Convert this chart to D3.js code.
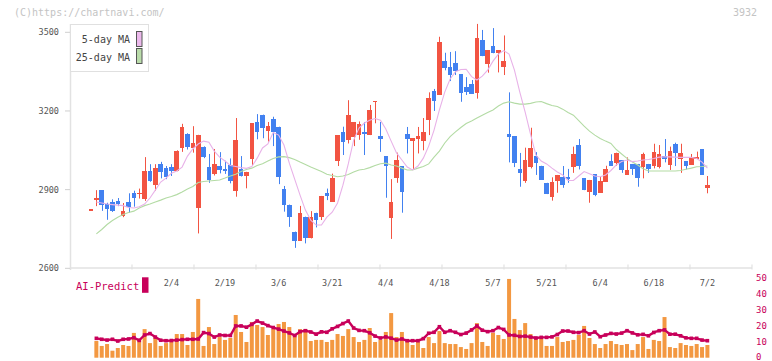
<!DOCTYPE html>
<html><head><meta charset="utf-8">
<script src="https://cdn.jsdelivr.net/npm/d3@7"></script>
<style>body{margin:0;background:#fff}svg{display:block}text{font-family:"DejaVu Sans Mono",monospace}</style>
</head><body><svg id="c" width="772" height="361"></svg>
<script>
// ---- data ----
const dateLabels = ["2/4","2/19","3/6","3/21","4/4","4/18","5/7","5/21","6/4","6/18","7/2"];
const labelIdx = [15,25,35,45,55,65,75,85,95,105,115];
const priceTicks = [2600,2900,3200,3500];
const volTicks = [0,10,20,30,40,50];
const opens = [2825,2861,2898,2844,2853,2857,2799,2853,2888,2886,2863,2971,2919,2997,2981,2986,2972,3058,3113,3060,2831,3062,2987,2959,2991,2980,2994,2896,2979,2952,3017,3158,3184,3125,3169,3139,2902,2841,2738,2705,2797,2716,2812,2797,2887,2854,3010,3120,3089,3102,3110,3120,3108,3233,3104,3028,2793,2945,2990,3112,3086,3093,3085,3165,3276,3262,3390,3368,3383,3341,3291,3303,3270,3470,3380,3448,3420,3369,3112,3104,2979,2933,2987,3028,2991,2926,2873,2934,2949,2949,2987,3070,2943,2892,2959,2888,2930,3009,3003,3013,2956,2998,2998,2987,2998,2991,2987,3028,2994,3075,3017,3009,2994,3018,3055,2907];
const highs = [2825,2898,2898,2850,2863,2868,2849,2886,2896,2904,3024,2997,2997,3006,2990,2997,3050,3151,3115,3142,3109,3065,3036,3055,3043,3010,3019,3173,3028,2968,3154,3188,3186,3158,3178,3140,2914,2843,2740,2838,2797,2818,2812,2876,2904,2961,3108,3140,3241,3158,3160,3158,3223,3237,3158,3028,2940,3041,2990,3139,3096,3139,3173,3271,3284,3483,3422,3425,3428,3341,3329,3318,3532,3509,3432,3516,3432,3488,3271,3104,3040,3060,3136,3043,2991,2926,2947,2956,2990,2979,3064,3093,2943,2937,2959,2949,2991,3035,3041,3013,3023,2998,2998,3041,2998,3075,3070,3093,3064,3079,3075,3009,3036,3045,3055,2952];
const lows = [2825,2837,2819,2785,2815,2837,2795,2812,2835,2866,2857,2930,2896,2943,2940,2952,2970,3044,3053,3041,2733,3020,2926,2954,2962,2960,2924,2873,2950,2905,2994,3092,3096,3083,3066,2921,2816,2758,2678,2705,2695,2714,2756,2784,2860,2854,2990,3032,3076,3066,3090,3032,3108,3153,3044,2869,2712,2926,2812,3038,2975,3038,3050,3108,3200,3262,3355,3314,3337,3235,3261,3265,3247,3409,3346,3420,3347,3337,3004,2986,2911,2926,2981,2956,2937,2883,2858,2888,2907,2926,2964,2977,2898,2850,2875,2888,2930,2991,2991,2964,2956,2956,2911,2943,2964,2981,2981,3004,2975,2990,2964,2977,2994,3018,2956,2886];
const closes = [2825,2868,2842,2827,2819,2845,2818,2833,2868,2887,2972,2934,2982,2967,2949,2970,3048,3139,3061,3079,3109,3025,2937,2998,2975,2972,2933,3089,2952,2968,3154,3121,3135,3143,3121,2949,2841,2797,2705,2810,2716,2797,2784,2876,2877,2944,3108,3083,3184,3158,3150,3111,3204,3237,3093,2990,2854,3013,2892,3093,3096,3104,3120,3249,3238,3463,3365,3337,3353,3270,3272,3266,3478,3409,3432,3420,3432,3390,3102,3003,2963,3013,3060,3003,2937,2883,2929,2956,2917,2941,3036,2991,2898,2937,2879,2934,2979,2991,3041,2975,2975,2979,2945,3036,2979,3043,3036,3017,3047,3038,3040,2991,3024,3023,2956,2917];
const ma5 = [null,2853,2849,2845,2843,2841,2839,2832,2830,2835,2845,2868,2898,2929,2944,2963,2971,2986,3028,3055,3074,3085,3081,3047,3024,3009,2992,2988,2984,2981,2988,3020,3059,3074,3118,3108,3070,3001,2940,2879,2822,2784,2765,2765,2795,2814,2849,2917,2998,3089,3135,3154,3165,3171,3165,3131,3085,3040,3013,2986,2975,2990,3020,3066,3127,3204,3272,3322,3350,3358,3359,3331,3318,3333,3356,3390,3417,3430,3417,3356,3272,3196,3112,3032,3009,2998,2982,2967,2956,2935,2935,2952,2969,2961,2952,2949,2956,2973,2994,3007,3013,3007,3009,3013,3015,3019,3024,3025,3025,3024,3023,3023,3023,3019,3005,2982];
const ma25 = [null,2731,2748,2767,2782,2795,2805,2813,2818,2830,2839,2845,2853,2860,2868,2874,2881,2891,2902,2912,2927,2931,2933,2935,2937,2944,2952,2959,2969,2977,2982,2992,2999,3009,3019,3025,3026,3022,3015,3005,2996,2986,2978,2969,2959,2954,2949,2952,2958,2967,2975,2978,2984,2992,2999,3001,2994,2990,2982,2975,2975,2982,2988,2998,3024,3047,3078,3102,3120,3137,3152,3162,3173,3184,3194,3204,3219,3230,3235,3230,3226,3226,3229,3234,3236,3228,3221,3217,3207,3194,3184,3163,3142,3123,3108,3095,3085,3076,3053,3036,3019,3005,2994,2980,2971,2971,2971,2971,2971,2971,2973,2978,2982,2987,2988,2990];
const volume = [null,10.5,7.4,8.6,4.4,6.1,8,7.4,15.6,11.8,18,9.2,13,7.4,9.2,9.9,14.9,14.9,8,16.2,37,7.4,19.3,8.6,13,11.2,12.4,26.9,16.2,9.9,22.5,20.6,19.3,14.3,18,21.2,22.5,19.3,14.3,18,18,10.5,11.2,11.2,9.9,11.2,14.9,13.7,18,13,9.9,11.2,18.7,9.9,11.2,16.2,28.1,13,16.2,11.2,8,9.9,6.1,13,9.2,16.8,9.2,8.6,8.6,6.7,5.5,9.2,21.8,9.9,7.4,15.6,14.3,11.8,49.6,24.4,17.4,21.8,14.9,11.8,11.8,7.4,7.4,13,9.9,10.5,11.2,14.3,20,12.4,8.6,6.1,8.6,10.5,8.6,8,8.6,4.8,8.6,13,5.5,11.2,10.5,25.6,6.7,6.1,9.2,8,7.4,8.6,6.7,8];
const aiPredict = [null,12.2,11.6,11.1,11.6,10.5,11.6,11.8,12.6,10.9,14.3,15.2,13,11,10.7,10.8,11.1,11.4,11.6,11.6,11.8,15.8,15.2,13,14.3,14,14,20,20,19.2,21,23.1,21.8,20.2,19,18,16.8,15.6,14,16.4,17,16.2,14.8,16.3,16,18.2,19.7,21.5,23.1,18.7,17.2,17,15.7,13.6,12.4,13.1,12.3,11.1,11.8,10.7,10.7,10.7,12,15.4,16,19.5,16,17,16,14.6,15.5,17.5,20,17.3,16.4,17,19,17.8,14.3,14.1,13.4,13.6,13,12.4,12.8,12.8,13.1,14.6,16.8,16.8,16,15.8,17,14.9,16.2,13.2,14.3,15.3,14.9,15.5,17,15.6,14.4,14.7,13.8,15.9,17,17.5,14.8,14.8,13.8,12.5,12.2,12.2,11.1,10.7];

// ---- drawing ----
const svg = d3.select("#c");
const idx = d3.range(opens.length);
const x = d3.scaleLinear().domain([0, 115]).range([91, 707.4]);
const y = d3.scaleLinear().domain([2600, 3500]).range([268.3, 32.3]);
const yv = d3.scaleLinear().domain([0, 50]).range([357.7, 278.3]);
const axisX = d3.scaleLinear().domain([0, 11]).range([70, 752]);
const RED = "#f25442", BLUE = "#4281f0";

// header texts
svg.append("text").attr("x", 14).attr("y", 16).attr("font-size", 10).attr("fill", "#c4c4c4").text("(C)https://chartnavi.com/");
svg.append("text").attr("x", 757).attr("y", 16).attr("font-size", 10).attr("fill", "#c4c4c4").attr("text-anchor", "end").text("3932");

// axes lines
const axisCol = "#e2e2e2";
svg.append("line").attr("x1", 70.5).attr("x2", 70.5).attr("y1", 24).attr("y2", 270).attr("stroke", axisCol).attr("stroke-width", 1.5);
svg.append("line").attr("x1", 70).attr("x2", 752).attr("y1", 268).attr("y2", 268).attr("stroke", axisCol).attr("stroke-width", 1.5);
svg.append("g").selectAll("line").data(d3.range(1, 12)).join("line")
  .attr("x1", d => axisX(d)).attr("x2", d => axisX(d)).attr("y1", 264.5).attr("y2", 269.5)
  .attr("stroke", axisCol).attr("stroke-width", 1.2);
// y ticks
const gy = svg.append("g");
gy.selectAll("line").data(priceTicks).join("line")
  .attr("x1", 65).attr("x2", 70).attr("y1", d => y(d)).attr("y2", d => y(d)).attr("stroke", "#cfcfcf");
gy.selectAll("text").data(priceTicks).join("text")
  .attr("x", 59).attr("y", d => y(d)).attr("dy", "0.35em").attr("text-anchor", "end")
  .attr("font-size", 8.5).attr("fill", "#555").text(d => d);
// x labels
svg.append("g").selectAll("text").data(dateLabels).join("text")
  .attr("x", (d, i) => x(labelIdx[i])).attr("y", 285.5).attr("text-anchor", "middle")
  .attr("font-size", 8.5).attr("fill", "#555").text(d => d);

// volume bars
svg.append("g").selectAll("rect").data(idx.filter(i => volume[i] != null)).join("rect")
  .attr("x", i => x(i) - 2).attr("width", 4)
  .attr("y", i => yv(volume[i])).attr("height", i => yv(0) - yv(volume[i]))
  .attr("fill", "#f39841");

// AI predict line
const aiIdx = idx.filter(i => aiPredict[i] != null);
svg.append("path").datum(aiIdx)
  .attr("d", d3.line().x(i => x(i)).y(i => yv(aiPredict[i])))
  .attr("fill", "none").attr("stroke", "#c8005a").attr("stroke-width", 2.4);
svg.append("g").selectAll("rect").data(aiIdx).join("rect")
  .attr("x", i => x(i) - 1.8).attr("y", i => yv(aiPredict[i]) - 1.8).attr("width", 3.6).attr("height", 3.6)
  .attr("fill", "#c8005a");
// right axis labels
svg.append("g").selectAll("text").data(volTicks).join("text")
  .attr("x", 756).attr("y", d => Math.min(yv(d) + 3, 359.5)).attr("font-size", 9)
  .attr("fill", "#c8005a").text(d => d);
// AI legend
svg.append("text").attr("x", 76).attr("y", 290).attr("font-size", 10.5).attr("fill", "#c8005a").text("AI-Predict");
svg.append("rect").attr("x", 142).attr("y", 277.3).attr("width", 6.5).attr("height", 15.5).attr("fill", "#c8005a");

// candles
const gc = svg.append("g");
gc.selectAll("line").data(idx).join("line")
  .attr("x1", i => Math.round(x(i)) + 0.5).attr("x2", i => Math.round(x(i)) + 0.5)
  .attr("y1", i => y(highs[i])).attr("y2", i => y(lows[i]))
  .attr("stroke", i => closes[i] >= opens[i] ? RED : BLUE).attr("stroke-width", 1);
gc.selectAll("rect").data(idx).join("rect")
  .attr("x", i => x(i) - 2.3).attr("width", 4.6)
  .attr("y", i => y(Math.max(opens[i], closes[i])))
  .attr("height", i => Math.max(1.2, Math.abs(y(opens[i]) - y(closes[i]))))
  .attr("fill", i => closes[i] >= opens[i] ? RED : BLUE)
  .attr("shape-rendering", "crispEdges");

// moving averages
const line = arr => d3.line().defined(i => arr[i] != null).x(i => x(i)).y(i => y(arr[i]));
svg.append("path").datum(idx).attr("d", line(ma25)).attr("fill", "none").attr("stroke", "#b3dba4").attr("stroke-width", 1.1);
svg.append("path").datum(idx).attr("d", line(ma5)).attr("fill", "none").attr("stroke", "#e8b2e8").attr("stroke-width", 1.1);

// legend box
const lg = svg.append("g");
lg.append("rect").attr("x", 70.5).attr("y", 24.5).attr("width", 78).attr("height", 47).attr("fill", "#fff").attr("stroke", "#e0e0e0");
lg.append("text").attr("x", 130).attr("y", 43).attr("text-anchor", "end").attr("font-size", 10).attr("fill", "#444").text("5-day MA");
lg.append("text").attr("x", 130).attr("y", 61).attr("text-anchor", "end").attr("font-size", 10).attr("fill", "#444").text("25-day MA");
lg.append("rect").attr("x", 136.5).attr("y", 31.5).attr("width", 5.5).attr("height", 15).attr("fill", "#ecb9ec").attr("stroke", "#555");
lg.append("rect").attr("x", 136.5).attr("y", 48.5).attr("width", 5.5).attr("height", 15).attr("fill", "#badcaa").attr("stroke", "#555");
</script></body></html>
